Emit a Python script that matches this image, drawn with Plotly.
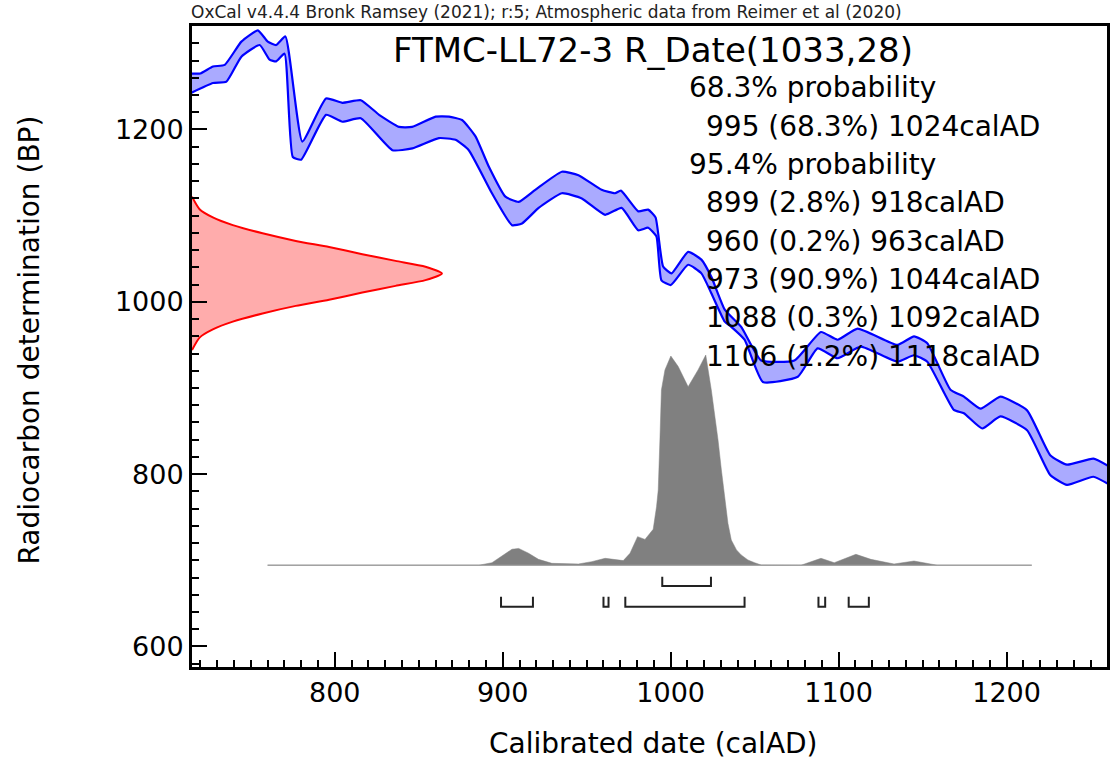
import plotly.graph_objects as go

# ---------------- data ----------------
# Calibration curve: upper and lower edge of the 1-sigma envelope
curve_upper_year = [714, 720, 727.5, 734.5, 744.4, 754.2, 760.1, 765.1, 770.6, 780.7,
                    794.8, 804.6, 815.5, 826.4, 838.3, 846, 860.1, 868, 875.8, 883.8,
                    891.7, 901.6, 909.5, 919.4, 935.2, 945.1, 958.9, 966.9, 970.4, 980.7,
                    986.6, 991, 995.5, 1000.5, 1010.4, 1018.3, 1024.2, 1032.2, 1042, 1053.9,
                    1073.7, 1089.5, 1099.4, 1111.3, 1135, 1144.9, 1152.8, 1166.6, 1174.6, 1184.5,
                    1196.3, 1212.2, 1226, 1236, 1251.7, 1262]
curve_upper_bp = [1265, 1265, 1273, 1275, 1302, 1315, 1302, 1298, 1308, 1186,
                  1236, 1231, 1234, 1217, 1203, 1203, 1215, 1215, 1211, 1192,
                  1157, 1122, 1116, 1130, 1151, 1147, 1130, 1126, 1129, 1105,
                  1107, 1098, 1041, 1033, 1058, 1049, 1029, 991, 971, 932,
                  932, 965, 956, 969, 950, 960, 952, 898, 890, 876,
                  890, 874, 822, 811, 818, 808]
curve_lower_year = [714, 727.5, 735.5, 744.4, 755.3, 761.2, 765.1, 770.1, 775, 780,
                    794.8, 804.6, 815.5, 834.3, 846.2, 862, 871.9, 879.8, 893.6, 905.5,
                    911.5, 921.4, 935.2, 947.1, 961, 970.8, 980.7, 986.6, 991.5, 994.5,
                    1000.1, 1010.4, 1018.3, 1024.2, 1032.2, 1036.1, 1044, 1054.9, 1075.7, 1087.5,
                    1099.4, 1113.2, 1135, 1144.9, 1152.8, 1168.6, 1174.6, 1185.5, 1196.3, 1212.2,
                    1226, 1236, 1251.7, 1262]
curve_lower_bp = [1242, 1254, 1255.5, 1284.5, 1298, 1281, 1279, 1288, 1168, 1165,
                  1217, 1209, 1213, 1176, 1178, 1190, 1188, 1176, 1126, 1089,
                  1091, 1109, 1126, 1120, 1101, 1109, 1083, 1086, 1076, 1025,
                  1019.5, 1043, 1033, 1010, 977, 971, 956, 907, 913, 946,
                  934.5, 948, 930.5, 938, 930.5, 874.5, 870.6, 853, 867, 851,
                  799, 787.5, 797, 787]

# Radiocarbon measurement R_Date(1033,28): BP vs drawn width (years from left axis)
meas_bp = [1122, 1107.5, 1098, 1089, 1079.5, 1070.7, 1063.6, 1055.3, 1047.5, 1040.8, 1033,
           1025.2, 1018.5, 1010.7, 1002.4, 995.3, 986.5, 977, 968, 958.5, 944]
meas_width = [0, 4.5, 12.4, 24.3, 42, 61.8, 81.6, 101.4, 121.2, 139, 148.8,
              139, 121.2, 101.4, 81.6, 61.8, 42, 24.3, 12.4, 4.5, 0]

# Calibrated probability distribution (relative density, 0..1)
post_year = [760, 885.8, 893.6, 899.6, 905.5, 909.5, 915.4, 921.3, 929.3, 945.1,
             953, 961, 966.9, 971.8, 975.8, 980.3, 984.7, 989.6, 991.6, 992.6,
             993.6, 994.5, 996.6, 1000.1, 1004.5, 1010.4, 1016.3, 1020.9, 1024.2, 1026.2,
             1028.2, 1030.2, 1032.2, 1034.1, 1036.1, 1039.2, 1042, 1046, 1050, 1053.9,
             1077.6, 1089.5, 1097.4, 1110.3, 1119.2, 1133, 1144.9, 1154.8, 1158.8, 1215]
post_rel = [0, 0, 0.012, 0.044, 0.076, 0.080, 0.057, 0.028, 0.009, 0.006,
            0.017, 0.033, 0.028, 0.022, 0.057, 0.136, 0.123, 0.171, 0.279, 0.358,
            0.596, 0.834, 0.929, 0.995, 0.945, 0.849, 0.929, 1.0, 0.834, 0.723,
            0.596, 0.453, 0.310, 0.200, 0.120, 0.073, 0.049, 0.025, 0.012, 0.001,
            0, 0.033, 0.012, 0.052, 0.028, 0.006, 0.020, 0.006, 0, 0]

# Highest probability density ranges
range68 = [(995, 1024)]
range95 = [(899, 918), (960, 963), (973, 1044), (1088, 1092), (1106, 1118)]

title_text = "FTMC-LL72-3 R_Date(1033,28)"
header_text = "OxCal v4.4.4 Bronk Ramsey (2021); r:5; Atmospheric data from Reimer et al (2020)"
prob_lines = [
    ("68.3% probability", 0),
    ("995 (68.3%) 1024calAD", 1),
    ("95.4% probability", 0),
    ("899 (2.8%) 918calAD", 1),
    ("960 (0.2%) 963calAD", 1),
    ("973 (90.9%) 1044calAD", 1),
    ("1088 (0.3%) 1092calAD", 1),
    ("1106 (1.2%) 1118calAD", 1),
]

x_ticks = [800, 900, 1000, 1100, 1200]
y_ticks = [600, 800, 1000, 1200]

# ---------------- layout constants ----------------
X_RANGE = [715, 1259.8]
Y_RANGE = [576.2, 1320.1]
W, H = 1113, 762
ML, MR, MT, MB = 192, 3, 26, 95
PW, PH = W - ML - MR, H - MT - MB
FONT = "DejaVu Sans"

POST_BASE = 694.3
POST_SCALE = 244.0
BR68_Y, BR68_TOP = 670.2, 681.0
BR95_Y, BR95_TOP = 646.2, 657.8
SMOOTH = 0.45


def px_x(px):
    return (px - ML) / PW


def px_y(py):
    return (H - MB - py) / PH


fig = go.Figure()

# calibration band
fig.add_trace(go.Scatter(
    x=curve_upper_year + curve_lower_year[::-1],
    y=curve_upper_bp + curve_lower_bp[::-1],
    fill="toself", fillcolor="rgba(170,170,255,1)", mode="lines",
    line=dict(width=0, color="rgba(0,0,0,0)", shape="spline", smoothing=SMOOTH),
    hoverinfo="skip"))
fig.add_trace(go.Scatter(x=curve_upper_year, y=curve_upper_bp, mode="lines",
                         line=dict(color="#0000FF", width=2.2, shape="spline", smoothing=SMOOTH)))
fig.add_trace(go.Scatter(x=curve_lower_year, y=curve_lower_bp, mode="lines",
                         line=dict(color="#0000FF", width=2.2, shape="spline", smoothing=SMOOTH)))

# measurement distribution (red)
fig.add_trace(go.Scatter(
    x=[X_RANGE[0] + w for w in meas_width], y=meas_bp,
    fill="toself", fillcolor="rgba(255,172,172,1)", mode="lines",
    line=dict(color="#FF0000", width=2, shape="spline", smoothing=0.6)))

# calibrated distribution (grey)
fig.add_trace(go.Scatter(
    x=post_year, y=[POST_BASE + r * POST_SCALE for r in post_rel],
    fill="toself", fillcolor="rgba(128,128,128,1)", mode="lines",
    line=dict(color="rgba(128,128,128,1)", width=0.5)))
fig.add_trace(go.Scatter(
    x=[post_year[0], post_year[-1]], y=[POST_BASE, POST_BASE], mode="lines",
    line=dict(color="rgba(150,150,150,0.8)", width=1.5)))


def bracket_xy(ranges, ybase, ytop):
    xs, ys = [], []
    for a, b in ranges:
        xs += [a, a, b, b, None]
        ys += [ytop, ybase, ybase, ytop, None]
    return xs, ys


for rng, yb, yt in [(range68, BR68_Y, BR68_TOP), (range95, BR95_Y, BR95_TOP)]:
    bx, by = bracket_xy(rng, yb, yt)
    fig.add_trace(go.Scatter(x=bx, y=by, mode="lines",
                             line=dict(color="#222222", width=2)))

annotations = []
annotations.append(dict(text=header_text, x=px_x(189), y=px_y(12), xref="paper", yref="paper",
                        xanchor="left", yanchor="middle", showarrow=False,
                        font=dict(family=FONT, size=17, color="#222222")))
annotations.append(dict(text=title_text, x=px_x(655), y=px_y(50), xref="paper", yref="paper",
                        xanchor="center", yanchor="middle", showarrow=False,
                        font=dict(family=FONT, size=34, color="black")))
for i, (txt, indent) in enumerate(prob_lines):
    annotations.append(dict(text=txt, x=px_x(689 if indent == 0 else 706), y=px_y(88 + 38.3 * i),
                            xref="paper", yref="paper", xanchor="left", yanchor="middle",
                            showarrow=False, font=dict(family=FONT, size=28, color="black")))
annotations.append(dict(text="Calibrated date (calAD)", x=px_x(655), y=px_y(743),
                        xref="paper", yref="paper", xanchor="center", yanchor="middle",
                        showarrow=False, font=dict(family=FONT, size=28, color="black")))
annotations.append(dict(text="Radiocarbon determination (BP)", x=px_x(28), y=px_y(340),
                        xref="paper", yref="paper", xanchor="center", yanchor="middle",
                        textangle=-90, showarrow=False,
                        font=dict(family=FONT, size=28, color="black")))

axis_common = dict(
    showgrid=False, zeroline=False, showline=True, linecolor="black", linewidth=3,
    mirror=True, ticks="inside", ticklen=15, tickwidth=2, tickcolor="black",
    tickfont=dict(family=FONT, size=27, color="black"),
)
fig.update_layout(
    width=W, height=H, margin=dict(l=ML, r=MR, t=MT, b=MB),
    paper_bgcolor="white", plot_bgcolor="white", showlegend=False,
    annotations=annotations,
    xaxis=dict(range=X_RANGE, tickvals=x_ticks, **axis_common,
               minor=dict(ticks="inside", ticklen=7, tickwidth=1.5, tickcolor="black",
                          tick0=0, dtick=10)),
    yaxis=dict(range=Y_RANGE, tickvals=y_ticks, **axis_common,
               minor=dict(ticks="inside", ticklen=7, tickwidth=1.5, tickcolor="black",
                          tick0=0, dtick=20)),
)

fig.write_html("out.html")
